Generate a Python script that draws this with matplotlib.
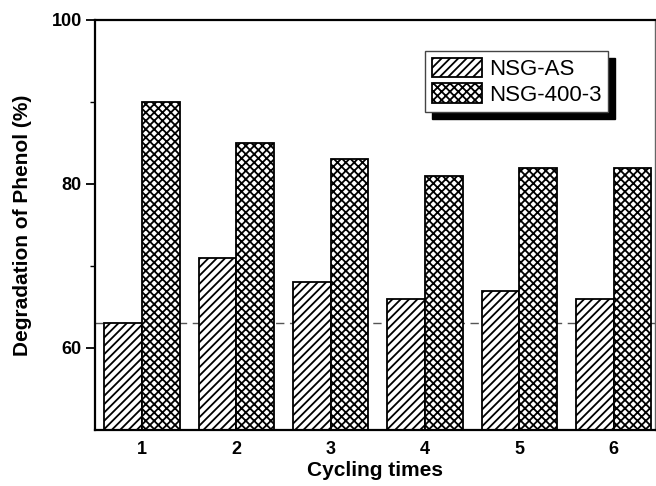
import matplotlib
matplotlib.use('Agg')
import matplotlib.pyplot as plt
import numpy as np

plt.rcParams['font.family'] = ['Liberation Sans', 'DejaVu Sans']
plt.rcParams['hatch.linewidth'] = 1.3

cycles = [1, 2, 3, 4, 5, 6]
nsg_as = [63, 71, 68, 66, 67, 66]
nsg_400_3 = [90, 85, 83, 81, 82, 82]
ref_level = 63

x = np.array(cycles)
w = 0.4

fig = plt.figure(figsize=(6.56, 4.86), dpi=100)
ax = fig.add_axes([95 / 656, 1 - 430 / 486, 560 / 656, 410 / 486])

ax.bar(x - w / 2, nsg_as, width=w, color='white', edgecolor='black',
       hatch='////', linewidth=1.3, label='NSG-AS')
ax.bar(x + w / 2, nsg_400_3, width=w, color='white', edgecolor='black',
       hatch='xxxx', linewidth=1.3, label='NSG-400-3')
ax.axhline(ref_level, color='#555555', linestyle=(0, (6, 4)), linewidth=1.0, zorder=0.5)

ax.set_xlim(0.5, 6.44)
ax.set_ylim(50, 100)
ax.set_xticks(cycles)
ax.set_yticks([60, 80, 100])
ax.set_yticks([70, 90], minor=True)
ax.tick_params(axis='x', length=0, pad=8, labelsize=13)
ax.tick_params(axis='y', which='major', direction='out', length=6.5, width=1.3, labelsize=13, pad=3)
ax.tick_params(axis='y', which='minor', direction='out', length=3.5, width=1.0)
for lab in ax.get_xticklabels() + ax.get_yticklabels():
    lab.set_fontweight('bold')

for s in ['left', 'bottom', 'top']:
    ax.spines[s].set_linewidth(1.6)
ax.spines['right'].set_linewidth(1.0)
ax.spines['right'].set_color('#666666')

ax.set_xlabel('Cycling times', fontsize=15, fontweight='bold', labelpad=2)
ax.set_ylabel('Degradation of Phenol (%)', fontsize=15, fontweight='bold', labelpad=14)

leg = ax.legend(loc='upper right', bbox_to_anchor=(0.916, 0.924), borderaxespad=0,
                fontsize=16, frameon=True, fancybox=False, edgecolor='#444444',
                handlelength=2.25, handleheight=0.95, handletextpad=0.3,
                labelspacing=0.15, borderpad=0.3,
                shadow={'ox': 5, 'oy': -5, 'color': 'black', 'alpha': 1})
leg.get_frame().set_linewidth(1.0)

fig.savefig('out.png', dpi=100)
